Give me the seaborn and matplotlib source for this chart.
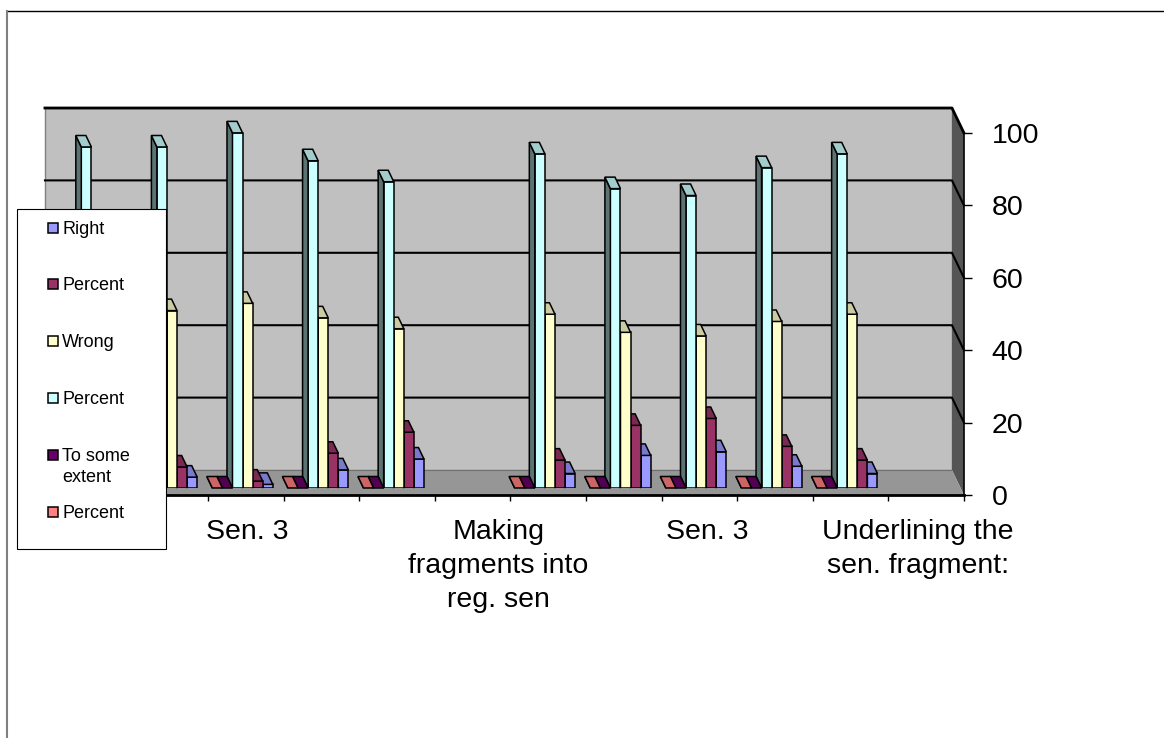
import numpy as np
import pandas as pd
import matplotlib
matplotlib.use("Agg")
import matplotlib.pyplot as plt
import seaborn as sns
from matplotlib.patches import Polygon, Rectangle
from matplotlib.lines import Line2D
from matplotlib.colors import to_rgb
from matplotlib.transforms import ScaledTranslation

nan = np.nan

# ---- data -------------------------------------------------------------
categories = ["Sen. 1", "Sen. 2", "Sen. 3", "Sen. 4", "Sen. 5",
              "Making\nfragments into\nreg. sen",
              "Sen. 1", "Sen. 2", "Sen. 3", "Sen. 4", "Sen. 5",
              "Underlining the\nsen. fragment:"]
shown_labels = [2, 5, 8, 11]          # every third category label is printed

right = [3, 3, 1, 5, 8, nan, 4, 9, 10, 6, 4, nan]
right_pct = [5.8, 5.8, 1.9, 9.6, 15.4, nan, 7.7, 17.3, 19.2, 11.5, 7.7, nan]
wrong = [49, 49, 51, 47, 44, nan, 48, 43, 42, 46, 48, nan]
wrong_pct = [94.2, 94.2, 98.1, 90.4, 84.6, nan, 92.3, 82.7, 80.8, 88.5, 92.3, nan]
some_extent = [0, 0, 0, 0, 0, nan, 0, 0, 0, 0, 0, nan]
some_extent_pct = [0, 0, 0, 0, 0, nan, 0, 0, 0, 0, 0, nan]

y_ticks = [0, 20, 40, 60, 80, 100]

# key, legend text, values, colour (legend order, top to bottom)
series = [
    ("Right", "Right", right, "#9999FF"),
    ("Right %", "Percent", right_pct, "#993366"),
    ("Wrong", "Wrong", wrong, "#FFFFCC"),
    ("Wrong %", "Percent", wrong_pct, "#CCFFFF"),
    ("To some extent", "To some\nextent", some_extent, "#660066"),
    ("To some extent %", "Percent", some_extent_pct, "#FF8080"),
]
bar_order = [s[0] for s in series][::-1]      # left-to-right inside a cluster
palette = {s[0]: s[3] for s in series}

rows = []
for key, _, vals, _ in series:
    for i, v in enumerate(vals):
        if not np.isnan(v):
            rows.append({"pos": i, "series": key, "value": v})
df = pd.DataFrame(rows)

# ---- figure / layout (pixel based) -----------------------------------
plt.rcParams["font.family"] = ["Liberation Sans", "DejaVu Sans"]
W, H = 1164, 738
fig = plt.figure(figsize=(W / 100, H / 100), dpi=100)


def fx(px):
    return px / W


def fy(py):
    return 1 - py / H


# plane of the bar fronts
PL, PR, PB, PT = 53.6, 960.6, 488.0, 126.0
N = len(categories)
ux = (PR - PL) / N          # px per category
uy = (PB - PT) / 100.0      # px per value unit
DEPTH_DX, DEPTH_DY, BAR_D = 12.0, 25.0, 0.72   # floor depth in px, bar plane position
BAR_DX, BAR_DY = -5.5, 11.5                    # bar depth in px (left, up)

ax = fig.add_axes([fx(PL), fy(PB), (PR - PL) / W, (PB - PT) / H])
ax_front = fig.add_axes([fx(PL + (1 - BAR_D) * DEPTH_DX), fy(PB + (1 - BAR_D) * DEPTH_DY),
                         (PR - PL) / W, (PB - PT) / H])

sns.barplot(data=df, x="pos", y="value", hue="series", order=list(range(N)),
            hue_order=bar_order, palette=palette, saturation=1, width=0.8,
            edgecolor="black", linewidth=1.1, errorbar=None, legend=False, ax=ax)
ax.set_xlim(-0.5, N - 0.5)
ax.set_ylim(0, 100)
ax.set_axis_off()


def at(x, y, d):
    """data point at depth d (0 = back wall, 1 = front edge)"""
    sx = (d - BAR_D) * DEPTH_DX
    sy = (d - BAR_D) * DEPTH_DY
    return (x + sx / ux, y - sy / uy)


def shade(c, f):
    r, g, b = to_rgb(c)
    return (r * f, g * f, b * f)


# ---- 3-D bar faces ----------------------------------------------------
bars = [p for p in ax.patches if isinstance(p, Rectangle)]
bars = [p for p in bars if np.isfinite(p.get_height())]
dxb, dyb = BAR_DX / ux, BAR_DY / uy
order = sorted(bars, key=lambda p: -p.get_x())
for rank, p in enumerate(order):
    z = 3 + rank * 0.01
    x0, w, h = p.get_x(), p.get_width(), p.get_height()
    fc = p.get_facecolor()
    p.set_zorder(z)
    left = Polygon([(x0, 0), (x0, h), (x0 + dxb, h + dyb), (x0 + dxb, dyb)],
                   closed=True, facecolor=shade(fc, 0.45), edgecolor="black",
                   linewidth=1.1, zorder=z, clip_on=False)
    top = Polygon([(x0, h), (x0 + w, h), (x0 + w + dxb, h + dyb), (x0 + dxb, h + dyb)],
                  closed=True, facecolor=shade(fc, 0.8), edgecolor="black",
                  linewidth=1.1, zorder=z, clip_on=False)
    ax.add_patch(left)
    ax.add_patch(top)

# ---- walls and floor --------------------------------------------------
x_lo, x_hi = -0.5, N - 0.5
back = Polygon([at(x_lo, 0, 0), at(x_hi, 0, 0), at(x_hi, 100, 0), at(x_lo, 100, 0)],
               facecolor="#C0C0C0", edgecolor="#808080", linewidth=1.0,
               zorder=0.2, clip_on=False)
floor = Polygon([at(x_lo, 0, 0), at(x_hi, 0, 0), at(x_hi, 0, 1), at(x_lo, 0, 1)],
                facecolor="#969696", edgecolor="none", zorder=0.3, clip_on=False)
side = Polygon([at(x_hi, 0, 0), at(x_hi, 100, 0), at(x_hi, 100, 1), at(x_hi, 0, 1)],
               facecolor="#555555", edgecolor="none", zorder=0.25, clip_on=False)
for patch in (back, side, floor):
    ax.add_patch(patch)

for v in y_ticks[1:]:
    pts = [at(x_lo, v, 0), at(x_hi, v, 0), at(x_hi, v, 1)]
    lw = 2.0 if v == 100 else 1.5
    ax.add_line(Line2D([q[0] for q in pts], [q[1] for q in pts], color="black",
                       linewidth=lw, zorder=0.6, clip_on=False))
pts = [at(x_lo, 0, 0), at(x_hi, 0, 0)]
ax.add_line(Line2D([q[0] for q in pts], [q[1] for q in pts], color="#707070",
                   linewidth=0.8, zorder=0.35, clip_on=False))

# ---- front axes: category axis and value axis -------------------------
ax_front.set_xlim(x_lo, x_hi)
ax_front.set_ylim(0, 100)
ax_front.patch.set_visible(False)
for s in ("top", "left"):
    ax_front.spines[s].set_visible(False)
ax_front.spines["bottom"].set_linewidth(2.0)
ax_front.spines["right"].set_linewidth(1.2)
for s in ("bottom", "right"):
    ax_front.spines[s].set_color("black")

ax_front.yaxis.tick_right()
ax_front.set_yticks(y_ticks)
ax_front.set_yticklabels([str(v) for v in y_ticks])
ax_front.tick_params(axis="y", which="major", direction="out", length=5.8, width=1,
                     pad=14, labelsize=20.5, colors="black")

ax_front.set_xticks(np.arange(x_lo, x_hi + 0.01, 1.0), minor=True)
ax_front.set_xticks(shown_labels)
ax_front.set_xticklabels([categories[i] for i in shown_labels])
ax_front.tick_params(axis="x", which="minor", direction="out", length=4.5, width=1,
                     colors="black")
ax_front.tick_params(axis="x", which="major", length=0, pad=17, labelsize=20.5,
                     colors="black")
# wrapped labels sit slightly off their category centre
label_shift_px = [1, 26, 8, -8]
for t, dx in zip(ax_front.get_xticklabels(), label_shift_px):
    t.set_linespacing(1.42)
    t.set_transform(t.get_transform() + ScaledTranslation(dx / 100, 0, fig.dpi_scale_trans))

# ---- legend -----------------------------------------------------------
LX0, LX1, LY0, LY1 = 17, 166, 209, 549
fig.add_artist(Rectangle((fx(LX0), fy(LY1)), (LX1 - LX0) / W, (LY1 - LY0) / H,
                         transform=fig.transFigure, facecolor="white",
                         edgecolor="black", linewidth=0.8, zorder=5))
entry_y = [228, 284, 341, 398, 455, 512]
for (key, label, _, color), cy in zip(series, entry_y):
    fig.add_artist(Rectangle((fx(48), fy(cy + 5)), 10 / W, 10 / H,
                             transform=fig.transFigure, facecolor=color,
                             edgecolor="black", linewidth=1.1, zorder=6))
    fig.text(fx(62), fy(cy - 7), label, ha="left", va="top", fontsize=13,
             color="black", linespacing=1.3, zorder=6)

# ---- chart border -----------------------------------------------------
fig.add_artist(Line2D([fx(7), 1], [fy(10.5), fy(10.5)], transform=fig.transFigure,
                      color="black", linewidth=1.0, zorder=6))
fig.add_artist(Line2D([fx(7), fx(7)], [fy(10.5), 0], transform=fig.transFigure,
                      color="#808080", linewidth=1.5, zorder=6))

fig.savefig("out.png", dpi=100, facecolor="white")
